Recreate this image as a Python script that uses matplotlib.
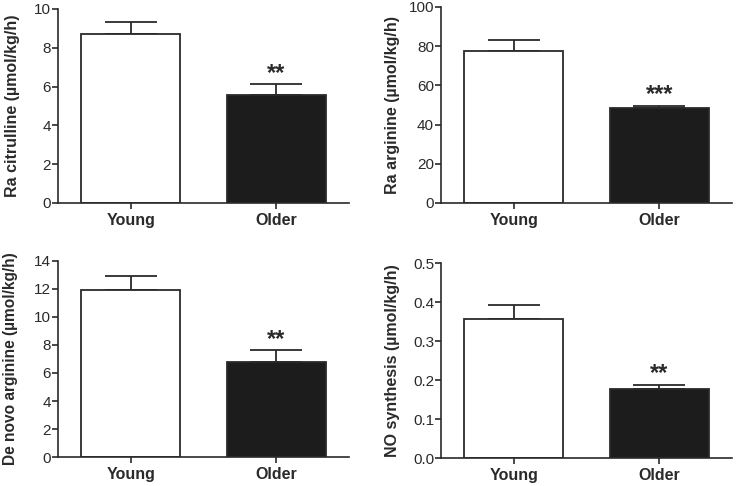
import matplotlib
matplotlib.use("Agg")
import matplotlib.pyplot as plt

plt.rcParams['font.family'] = ['Liberation Sans', 'DejaVu Sans']

groups = ["Young", "Older"]
ylabels = ["Ra citrulline (µmol/kg/h)", "Ra arginine (µmol/kg/h)",
           "De novo arginine (µmol/kg/h)", "NO synthesis (µmol/kg/h)"]
means = [[8.71, 5.55], [77.7, 48.6], [11.95, 6.82], [0.356, 0.176]]
sems = [[0.60, 0.57], [5.3, 1.0], [0.98, 0.81], [0.036, 0.012]]
stars = ["**", "***", "**", "**"]
ylims = [10, 100, 14, 0.5]
yticks = [[0, 2, 4, 6, 8, 10], [0, 20, 40, 60, 80, 100],
          [0, 2, 4, 6, 8, 10, 12, 14], [0.0, 0.1, 0.2, 0.3, 0.4, 0.5]]
yticklabels = [["0", "2", "4", "6", "8", "10"],
               ["0", "20", "40", "60", "80", "100"],
               ["0", "2", "4", "6", "8", "10", "12", "14"],
               ["0.0", "0.1", "0.2", "0.3", "0.4", "0.5"]]

W, H = 736, 486
fig = plt.figure(figsize=(W / 100, H / 100), dpi=100)
# axes rectangles in pixels: left, top, right, bottom
rects = [(58, 9, 349, 203), (441, 7, 732, 203),
         (58, 261, 349, 457), (441, 263, 732, 458)]
label_x = [-0.131, -0.141, -0.137, -0.141]
label_fs = [11.5, 11.5, 11.2, 11.5]
colors = ["white", "#1c1c1c"]
dark = "#2a2a2a"

for i, (l, t, r, b) in enumerate(rects):
    ax = fig.add_axes([l / W, 1 - b / H, (r - l) / W, (b - t) / H])
    x = [0, 1]
    ax.bar(x, means[i], width=0.68, color=colors, edgecolor=dark,
           linewidth=1.3, zorder=2)
    for j in range(2):
        ax.errorbar(x[j], means[i][j], yerr=[[0], [sems[i][j]]], fmt="none",
                    ecolor=dark, elinewidth=1.3, capsize=18.5, capthick=1.3,
                    zorder=1)
    top = means[i][1] + sems[i][1]
    ax.annotate(stars[i], xy=(1, top), xytext=(0, 8), textcoords="offset points",
                ha="center", va="center", fontsize=17, fontweight="bold",
                color=dark)
    ax.set_xlim(-0.5, 1.5)
    ax.set_ylim(0, ylims[i])
    ax.set_yticks(yticks[i])
    ax.set_yticklabels(yticklabels[i])
    ax.set_xticks(x)
    ax.set_xticklabels(groups, fontweight="bold", fontsize=11.5)
    ax.set_ylabel(ylabels[i], fontweight="bold", fontsize=label_fs[i], color=dark)
    ax.yaxis.set_label_coords(label_x[i], 0.5)
    for s in ["top", "right"]:
        ax.spines[s].set_visible(False)
    for s in ["left", "bottom"]:
        ax.spines[s].set_linewidth(1.2)
        ax.spines[s].set_color(dark)
    ax.tick_params(axis="both", direction="out", length=4, width=1.2,
                   color=dark, labelcolor=dark)
    ax.tick_params(axis="y", labelsize=11, pad=1)
    ax.tick_params(axis="x", pad=3)

fig.savefig("out.png", dpi=100)
